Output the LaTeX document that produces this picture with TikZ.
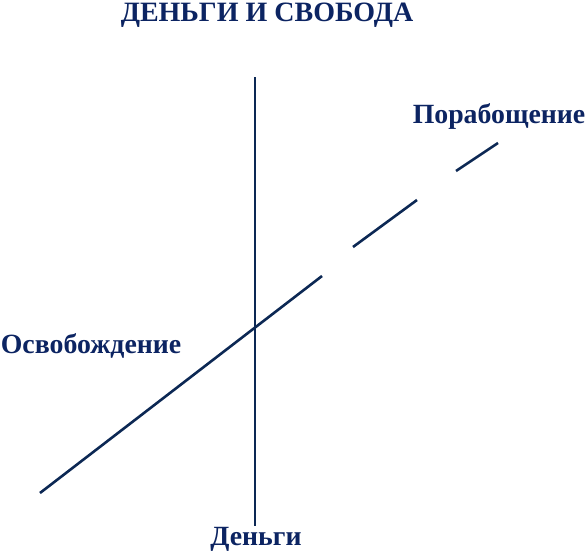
\documentclass[tikz,border=0pt]{standalone}
\usepackage{fontspec}
\setmainfont{Liberation Serif}
\definecolor{navytext}{RGB}{12,36,98}
\definecolor{navyline}{RGB}{12,40,84}
\begin{document}
\begin{tikzpicture}[x=1pt,y=-1pt,
  lbl/.style={font=\bfseries\fontsize{27.8}{32}\selectfont, text=navytext, inner sep=0pt, anchor=base},
  ttl/.style={font=\bfseries\fontsize{28}{33}\selectfont, text=navytext, inner sep=0pt, anchor=base},
  axis/.style={draw=navyline, line width=2.6pt}]
\useasboundingbox (0,0) rectangle (587,554);
\node[ttl] (title) at (267,21.5) {ДЕНЬГИ И СВОБОДА};
\node[lbl] (enslave) at (499,123) {Порабощение};
\node[lbl] (free) at (91,353) {Освобождение};
\node[lbl] (money) at (256,545) {Деньги};
\coordinate (vtop) at (255,77);
\coordinate (vbot) at (255,526);
\coordinate (d0) at (40,493);
\coordinate (d1) at (322,276);
\coordinate (d2) at (353,247);
\coordinate (d3) at (417,200);
\coordinate (d4) at (456,171);
\coordinate (d5) at (498,143);
\draw[axis] (vtop) -- (vbot);
\draw[axis] (d0) -- (d1);
\draw[axis] (d2) -- (d3);
\draw[axis] (d4) -- (d5);
\end{tikzpicture}
\end{document}
